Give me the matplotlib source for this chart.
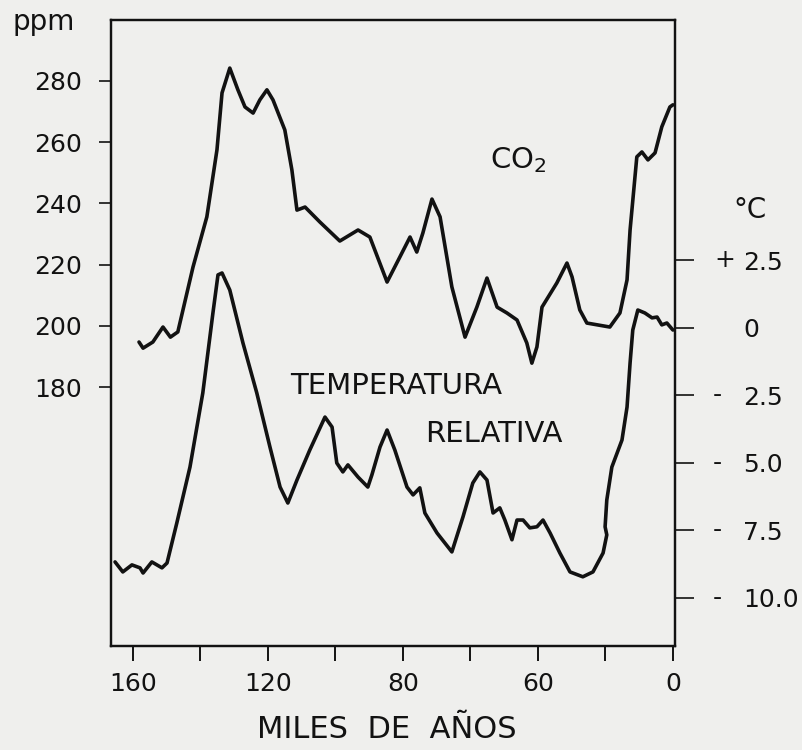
import matplotlib.pyplot as plt

# Curva de CO2 (ppm) - miles de años antes del presente
co2_kyr = [158.2, 157.0, 154.1, 151.1, 148.9, 146.7, 142.2, 138.1, 135.1, 133.6,
           131.3, 128.9, 126.8, 124.4, 122.4, 120.3, 118.5, 115.0, 112.9, 111.4,
           109.0, 104.6, 98.7, 93.3, 89.8, 84.7, 80.9, 77.9, 75.9, 74.1,
           71.4, 69.0, 65.5, 61.6, 58.1, 55.1, 52.1, 49.2, 46.2, 43.3,
           41.8, 40.3, 38.8, 34.4, 31.4, 29.9, 27.6, 25.5, 18.7, 15.7,
           13.6, 12.7, 10.7, 9.2, 7.4, 5.3, 3.3, 0.9, 0.0]
co2_ppm = [194.7, 192.7, 194.7, 199.6, 196.3, 198.0, 219.2, 235.6, 257.5, 276.1,
           284.2, 277.1, 271.5, 269.5, 273.8, 277.1, 273.8, 264.0, 250.9, 237.8,
           238.8, 233.9, 227.7, 231.3, 229.0, 214.3, 222.5, 229.0, 224.1, 230.3,
           241.4, 235.6, 212.7, 196.3, 206.1, 215.6, 206.1, 204.2, 201.9, 194.4,
           187.8, 193.1, 206.1, 214.0, 220.5, 216.0, 205.2, 200.9, 199.6, 204.2,
           215.0, 231.3, 255.2, 256.8, 254.2, 256.5, 265.0, 271.5, 272.2]

# Temperatura relativa (°C)
temp_kyr = [165.3, 163.0, 160.3, 157.9, 157.0, 154.4, 151.4, 149.9, 147.0, 143.1,
            139.3, 136.3, 134.8, 133.6, 131.3, 127.4, 123.3, 119.4, 116.4, 114.1,
            111.4, 107.6, 103.1, 101.0, 99.6, 97.8, 96.3, 93.3, 90.4, 89.2,
            86.8, 84.7, 82.4, 78.8, 77.0, 75.0, 73.5, 69.9, 65.5, 62.2,
            59.3, 57.2, 55.1, 53.3, 51.3, 49.8, 47.7, 46.2, 44.4, 42.4,
            40.3, 38.5, 36.4, 33.5, 30.5, 26.7, 23.7, 20.7, 19.6, 20.1,
            19.6, 18.1, 15.1, 13.6, 12.7, 11.9, 10.4, 8.3, 6.2, 4.7,
            3.3, 1.8, 0.0]
temp_c = [-8.67, -9.04, -8.78, -8.89, -9.08, -8.67, -8.89, -8.71, -7.23, -5.16,
          -2.42, 0.54, 1.95, 2.02, 1.39, -0.57, -2.42, -4.42, -5.90, -6.49,
          -5.64, -4.53, -3.31, -3.68, -5.01, -5.34, -5.08, -5.53, -5.90, -5.45,
          -4.42, -3.79, -4.53, -5.90, -6.19, -5.93, -6.86, -7.60, -8.30, -7.00,
          -5.75, -5.34, -5.64, -6.86, -6.67, -7.12, -7.85, -7.12, -7.12, -7.41,
          -7.37, -7.12, -7.60, -8.34, -9.04, -9.22, -9.04, -8.34, -7.67, -7.37,
          -6.38, -5.16, -4.16, -2.94, -1.31, -0.09, 0.65, 0.54, 0.36, 0.39,
          0.10, 0.17, -0.09]

x_ticks = [160, 140, 120, 100, 80, 60, 40, 20, 0]
x_labels = ['160', '', '120', '', '80', '', '60', '', '0']
ppm_ticks = [280, 260, 240, 220, 200, 180]
temp_ticks = [2.5, 0, -2.5, -5.0, -7.5, -10.0]
temp_nums = ['2.5', '0', '2.5', '5.0', '7.5', '10.0']
temp_signs = ['+', '', '-', '-', '-', '-']

fondo = '#efefed'
tinta = '#121212'

fig = plt.figure(figsize=(8.02, 7.5), dpi=100, facecolor=fondo)
ax = fig.add_axes([0.1384, 0.1387, 0.7032, 0.8346], facecolor=fondo)
ax2 = ax.twinx()

ax.plot(co2_kyr, co2_ppm, color=tinta, lw=2.6, solid_joinstyle='round', solid_capstyle='round')
ax2.plot(temp_kyr, temp_c, color=tinta, lw=2.6, solid_joinstyle='round', solid_capstyle='round')

ax.set_xlim(166.5, -0.6)
ax.set_ylim(95.4, 299.9)
ax2.set_ylim(-11.78, 11.38)

for a in (ax, ax2):
    for s in a.spines.values():
        s.set_linewidth(1.6)
        s.set_color(tinta)

ax.set_xticks(x_ticks)
ax.set_xticklabels(x_labels)
ax.tick_params(axis='x', direction='out', length=11, width=1.4, pad=8, labelsize=18, colors=tinta)
ax.set_yticks(ppm_ticks)
ax.set_yticklabels([str(v) for v in ppm_ticks])
ax.tick_params(axis='y', direction='out', length=9, width=1.2, pad=12, labelsize=18, colors=tinta)

ax2.set_yticks(temp_ticks)
ax2.set_yticklabels(temp_nums)
ax2.tick_params(axis='y', direction='out', length=14, width=1.2, pad=35, labelsize=18, colors=tinta)
for t, s in zip(temp_ticks, temp_signs):
    if s:
        xs = 1.0887 if s == '+' else 1.0745
        ax2.text(xs, t, s, transform=ax2.get_yaxis_transform(), ha='center', va='center',
                 fontsize=18, color=tinta, clip_on=False)

fig.text(0.015, 0.9707, 'ppm', fontsize=20, color=tinta, va='center', ha='left')
fig.text(733 / 802, 1 - 210 / 750, '°C', fontsize=20, color=tinta, va='center', ha='left')

ax.text(0.672, 0.776, 'CO$_2$', transform=ax.transAxes, fontsize=21, color=tinta, va='center', ha='left')
ax.text(0.317, 0.415, 'TEMPERATURA', transform=ax.transAxes, fontsize=21, color=tinta, va='center', ha='left')
ax.text(0.557, 0.339, 'RELATIVA', transform=ax.transAxes, fontsize=21, color=tinta, va='center', ha='left')

fig.text(387 / 802, 1 - 729 / 750, 'MILES  DE  AÑOS', fontsize=22, color=tinta, va='center', ha='center')

plt.savefig('out.png', dpi=100, facecolor=fondo)
